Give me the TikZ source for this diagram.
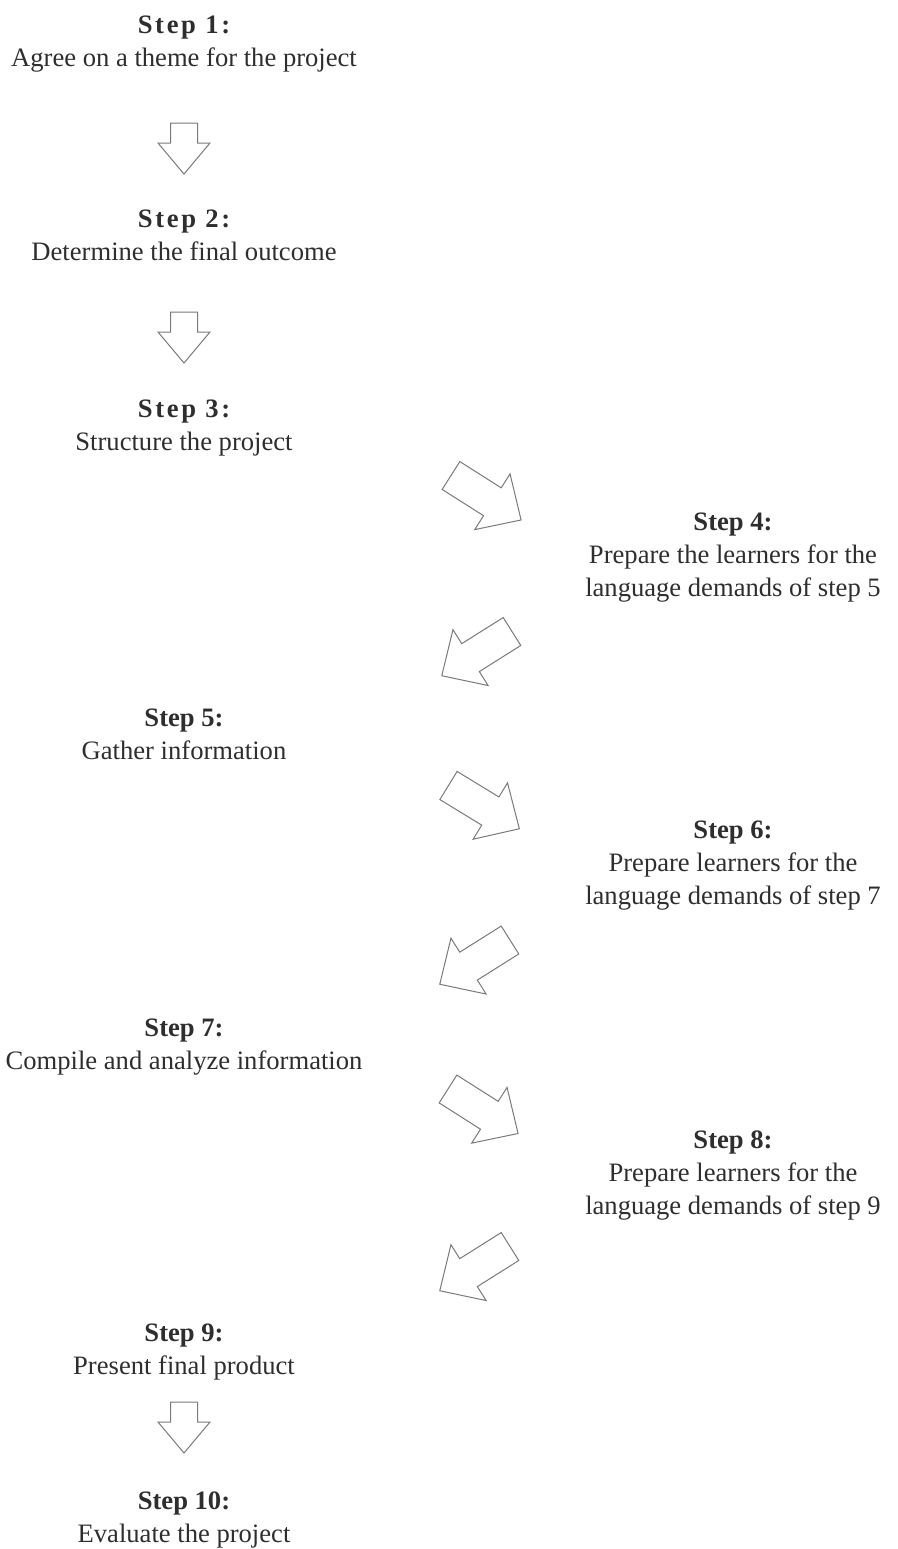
\documentclass[tikz,border=0pt]{standalone}
\usepackage{fontspec}
\setmainfont{Liberation Serif}
\newfontfamily\spacedfont[LetterSpace=10]{Liberation Serif}
\usetikzlibrary{positioning}
\definecolor{InkGray}{HTML}{2E2E2E}
\definecolor{ArrowGray}{HTML}{7A7A7A}

\begin{document}
\begin{tikzpicture}[
  x=0.5pt, y=-0.5pt,
  stepnode/.style={text=InkGray, align=center, inner sep=0pt,
               font=\fontsize{13.3}{16.5}\selectfont},
  outline/.style={draw=ArrowGray, line width=0.5pt, fill=white},
  downarrow/.pic={\draw[outline] (-13.5,0) -- (13.5,0) -- (13.5,20) -- (26,20)
                  -- (0,51) -- (-26,20) -- (-13.5,20) -- cycle;},
  slantarrow/.pic={\draw[outline] (0,-16.5) -- (49,-16.5) -- (49,-33) -- (83,0)
                  -- (49,33) -- (49,16.5) -- (0,16.5) -- cycle;}
]
\useasboundingbox (0,0) rectangle (898,1549);
% left column
\node[stepnode] (theme) at (184,44) {{\spacedfont\bfseries Step 1:}\\Agree on a theme for the project};
\node[stepnode] (outcome) at (184,235) {{\spacedfont\bfseries Step 2:}\\Determine the final outcome};
\node[stepnode] (structure) at (184,428) {{\spacedfont\bfseries Step 3:}\\Structure the project};
\node[stepnode] (gather) at (184,734) {\textbf{Step 5:}\\Gather information};
\node[stepnode] (compile) at (184,1047) {\textbf{Step 7:}\\Compile and analyze information};
\node[stepnode] (present) at (184,1352) {\textbf{Step 9:}\\Present final product};
\node[stepnode] (evaluate) at (184,1520) {\textbf{Step 10:}\\Evaluate the project};
% right column
\node[stepnode] (prep4) at (733,558) {\textbf{Step 4:}\\Prepare the learners for the\\language demands of step 5};
\node[stepnode] (prep6) at (733,866) {\textbf{Step 6:}\\Prepare learners for the\\language demands of step 7};
\node[stepnode] (prep8) at (733,1176) {\textbf{Step 8:}\\Prepare learners for the\\language demands of step 9};
% block arrows
\pic at (184,123) {downarrow};
\pic at (184,312) {downarrow};
\pic[rotate=-32.4] at (451,475.5) {slantarrow};
\pic[rotate=-147.8] at (512,631.5) {slantarrow};
\pic[rotate=-31.4] at (448.5,785.5) {slantarrow};
\pic[rotate=-147.8] at (510,940) {slantarrow};
\pic[rotate=-32.4] at (448,1089) {slantarrow};
\pic[rotate=-147.8] at (510,1246.5) {slantarrow};
\pic at (184,1402) {downarrow};
\end{tikzpicture}
\end{document}
